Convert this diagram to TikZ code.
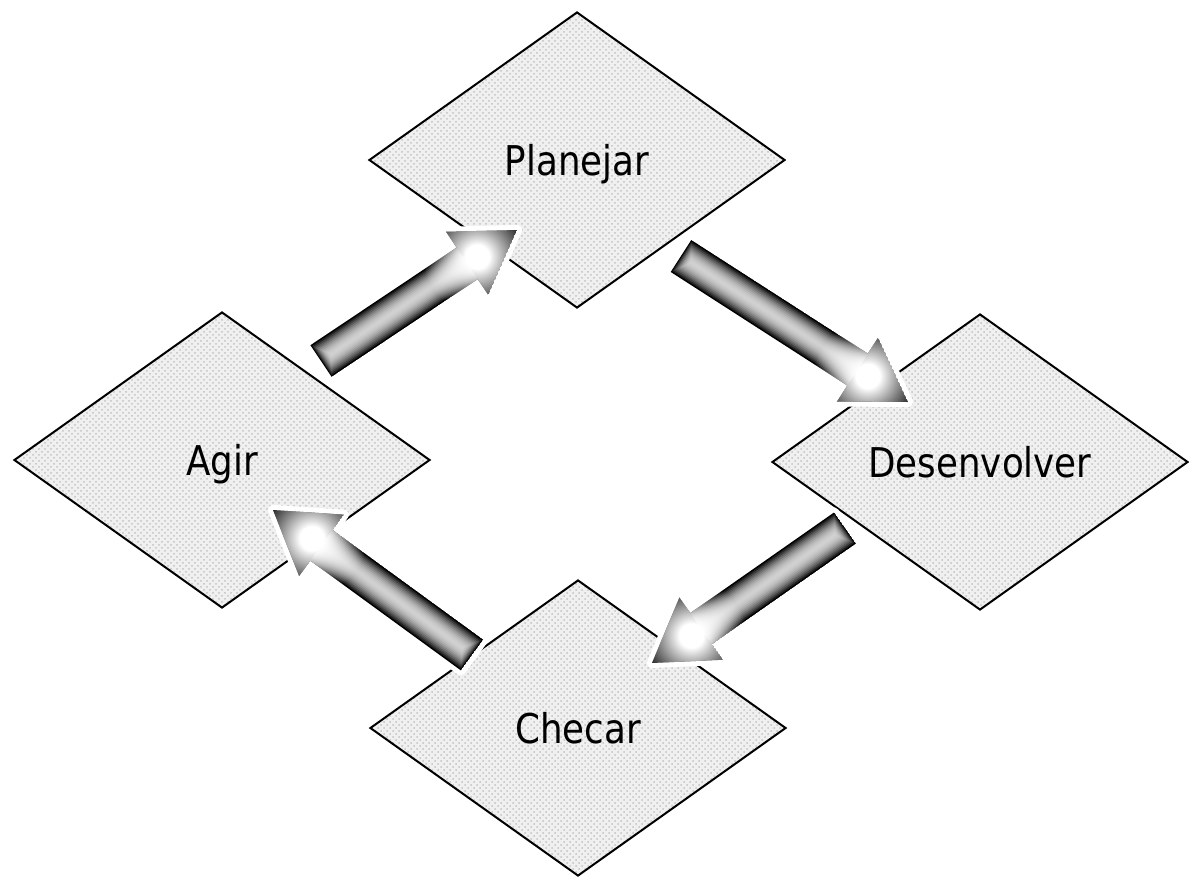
\documentclass[tikz,border=0pt]{standalone}
\usepackage{fontspec}
\setmainfont{DejaVu Sans}[FakeStretch=0.87]
\usetikzlibrary{shapes.geometric,calc,patterns,fadings}

% soft white spot used as the highlight on each arrow head
\pgfdeclareradialshading{glowshade}{\pgfpointorigin}{%
  color(0bp)=(white); color(5bp)=(white); color(23bp)=(black); color(50bp)=(black)}
\pgfdeclarefading{glow}{\pgfuseshading{glowshade}}

\tikzset{
  stage/.style={shape=diamond, draw=black, line width=1pt,
    minimum width=208pt, minimum height=148pt, inner sep=0pt,
    preaction={fill=black!6}, pattern=crosshatch dots, pattern color=black!24,
    font=\fontsize{20.5pt}{24pt}\selectfont, text height=15pt, text depth=0pt},
  arrowhalo/.style={draw=white, line width=5pt, line join=round},
}

% thick shaded block arrow: #1 name prefix, #2 tail, #3 tip
\newcommand\blockarrow[3]{%
  \coordinate (#1b)  at ($(#3)!30pt!(#2)$);
  \coordinate (#1s1) at ($(#2)!9.5pt!90:(#3)$);
  \coordinate (#1s2) at ($(#2)!9.5pt!-90:(#3)$);
  \coordinate (#1b1) at ($(#1b)!9.5pt!90:(#3)$);
  \coordinate (#1b2) at ($(#1b)!9.5pt!-90:(#3)$);
  \coordinate (#1w1) at ($(#1b)!19pt!90:(#3)$);
  \coordinate (#1w2) at ($(#1b)!19pt!-90:(#3)$);
  \coordinate (#1g)  at ($(#1b)!6pt!(#3)$);
  \draw[arrowhalo] (#1s1) -- (#1b1) -- (#1w1) -- (#3) -- (#1w2) -- (#1b2) -- (#1s2) -- cycle;
  \begin{scope}
    \clip (#1s1) -- (#1b1) -- (#1w1) -- (#3) -- (#1w2) -- (#1b2) -- (#1s2) -- cycle;
    \fill[black] (#1s1) -- (#1b1) -- (#1w1) -- (#3) -- (#1w2) -- (#1b2) -- (#1s2) -- cycle;
    \foreach \k in {1,...,11}{
      \pgfmathsetmacro\rr{1-\k/12}
      \pgfmathsetmacro\ww{19*\rr}
      \pgfmathsetmacro\pp{100-82*(1-\rr*\rr)}
      \pgfmathsetmacro\ss{6*(1-\rr)}
      \draw[line width=\ww pt, black!\pp, shorten <=\ss pt] (#2) -- (#1b);
    }
    \fill[white, path fading=glow] (#1g) circle (30pt);
  \end{scope}
}

\begin{document}
\begin{tikzpicture}[x=0.5pt, y=-0.5pt]
  \useasboundingbox (0,0) rectangle (1189,878);

  % the four stages of the cycle
  \node[stage] (plan)  at (577,160) {Planejar};
  \node[stage] (desen) at (980,462) {Desenvolver};
  \node[stage] (check) at (578,728) {Checar};
  \node[stage] (agir)  at (222,460) {Agir};

  % arrow ends
  \coordinate (t1) at ($(agir)+(99,-99)$);
  \coordinate (h1) at ($(plan)+(-60,70)$);
  \coordinate (t2) at ($(plan)+(104,96)$);
  \coordinate (h2) at ($(desen)+(-72,-60)$);
  \coordinate (t3) at ($(desen)+(-135,66)$);
  \coordinate (h3) at ($(check)+(74,-65)$);
  \coordinate (t4) at ($(check)+(-106,-73)$);
  \coordinate (h4) at ($(agir)+(51,50)$);

  \blockarrow{ar1}{t1}{h1}
  \blockarrow{ar2}{t2}{h2}
  \blockarrow{ar3}{t3}{h3}
  \blockarrow{ar4}{t4}{h4}
\end{tikzpicture}
\end{document}
